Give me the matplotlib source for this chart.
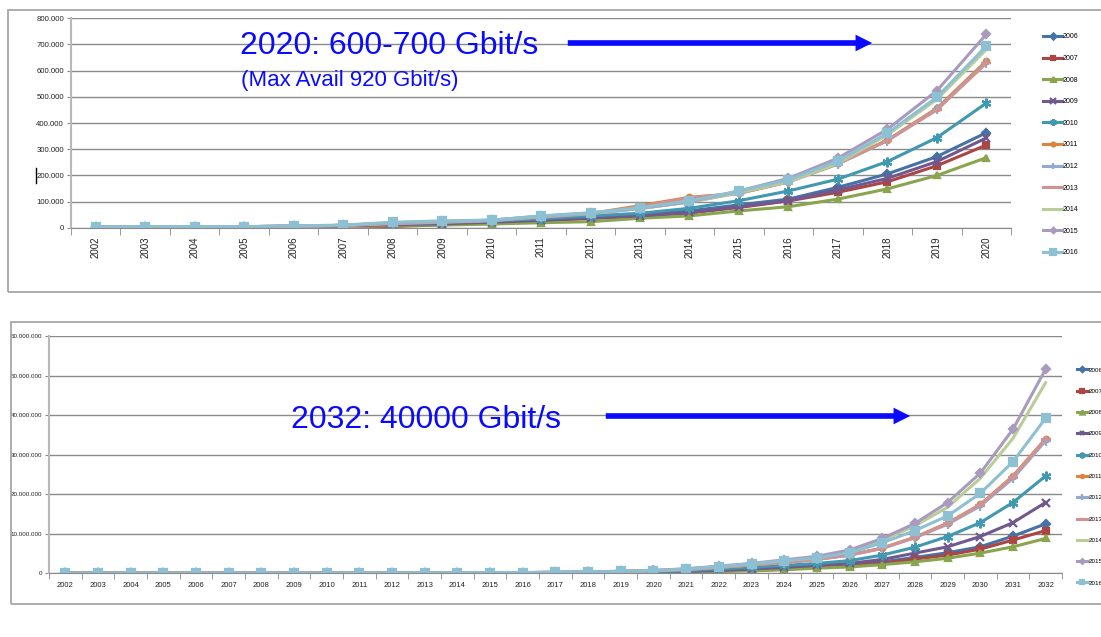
import matplotlib
matplotlib.use('Agg')
import matplotlib.pyplot as plt
from matplotlib import font_manager as fm
from matplotlib.patches import Rectangle, FancyArrowPatch
from matplotlib.lines import Line2D
from matplotlib.ticker import FuncFormatter, MultipleLocator, FixedLocator
import numpy as np

# ========= Datos (valores en miles) ========= #

years_top = [str(y) for y in range(2002, 2021)]
years_ext = [str(y) for y in range(2021, 2033)]
series_names = ['2006', '2007', '2008', '2009', '2010', '2011',
                '2012', '2013', '2014', '2015', '2016']

# proyecciones 2002-2020 (grafico de arriba)
top_2006 = [4, 5, 5, 5, 6, 9, 15, 19, 25, 33, 42, 50, 65, 88, 110, 155, 206, 272, 363]
top_2007 = [4, 5, 5, 5, 6, 8, 6, 12, 20, 28, 36, 46, 57, 78, 103, 136, 176, 237, 316]
top_2008 = [4, 5, 5, 5, 6, 8, 10, 11, 15, 20, 24, 37, 46, 65, 81, 110, 149, 200, 268]
top_2009 = [4, 5, 5, 5, 6, 9, 13, 16, 22, 29, 38, 46, 59, 81, 104, 145, 189, 253, 343]
top_2010 = [4, 5, 5, 5, 7, 10, 16, 21, 27, 36, 46, 56, 75, 104, 141, 186, 253, 344, 476]
top_2011 = [4, 5, 5, 5, 7, 10, 18, 23, 29, 42, 55, 85, 117, 132, 176, 246, 335, 456, 636]
top_2012 = [4, 5, 5, 5, 7, 10, 17, 22, 28, 41, 54, 74, 99, 133, 176, 244, 333, 452, 630]
top_2013 = [4, 5, 5, 5, 7, 10, 18, 23, 29, 43, 55, 80, 115, 132, 175, 244, 333, 450, 628]
top_2014 = [4, 5, 5, 5, 7, 10, 19, 24, 29, 44, 56, 74, 99, 135, 176, 246, 355, 490, 680]
top_2015 = [4, 5, 5, 5, 7, 10, 20, 25, 30, 45, 57, 75, 100, 141, 189, 266, 376, 523, 738]
top_2016 = [4, 5, 5, 5, 8, 11, 22, 27, 30, 46, 58, 77, 103, 141, 183, 255, 361, 498, 693]

# continuacion 2021-2032 (grafico de abajo)
ext_2006 = [480, 640, 900, 1200, 1700, 2100, 2900, 4000, 5200, 6700, 9400, 12500]
ext_2007 = [430, 550, 800, 1000, 1500, 1900, 2500, 3600, 4600, 6100, 8400, 10800]
ext_2008 = [360, 450, 600, 900, 1300, 1600, 2200, 2900, 3800, 5100, 6700, 8800]
ext_2009 = [480, 700, 1100, 1500, 2000, 2500, 3500, 5100, 6700, 9300, 12800, 17900]
ext_2010 = [660, 1100, 1500, 2000, 2500, 3200, 4600, 6600, 9300, 12800, 17900, 24600]
ext_2011 = [960, 1500, 2100, 2750, 3550, 4650, 6400, 9100, 12700, 17400, 24600, 34000]
ext_2012 = [950, 1500, 2100, 2700, 3500, 4600, 6300, 9000, 12400, 17000, 24000, 33500]
ext_2013 = [950, 1500, 2100, 2700, 3500, 4600, 6300, 9100, 12600, 17300, 24400, 33900]
ext_2014 = [1100, 1700, 2400, 3200, 4000, 5500, 8300, 12000, 16700, 24000, 34100, 48200]
ext_2015 = [1150, 1800, 2500, 3400, 4300, 5900, 8800, 12600, 17900, 25300, 36400, 51600]
ext_2016 = [1050, 1700, 2400, 3200, 3900, 5200, 7700, 10800, 14500, 20200, 28200, 39200]

top_series = [top_2006, top_2007, top_2008, top_2009, top_2010, top_2011,
              top_2012, top_2013, top_2014, top_2015, top_2016]
ext_series = [ext_2006, ext_2007, ext_2008, ext_2009, ext_2010, ext_2011,
              ext_2012, ext_2013, ext_2014, ext_2015, ext_2016]

# ========= Estilo ========= #

colores = ['#4572A7', '#AA4643', '#89A54E', '#71588F', '#4198AF', '#DB843D',
           '#93A9CF', '#D19392', '#B9CD96', '#A99BBD', '#8EC0D4']
marcadores = ['D', 's', '^', 'x', (6, 2, 0), 'o', '+', '_', '', 'D', 's']
tamanios = [4.5, 5, 5, 6, 7, 4, 7, 7, 0, 4, 6]
azul = '#0A0AFF'
gris = '#8a8a8a'


def pick_font(names):
    for n in names:
        try:
            fm.findfont(fm.FontProperties(family=n), fallback_to_default=False)
            return n
        except ValueError:
            pass
    return 'DejaVu Sans'


fuente = pick_font(['Liberation Sans', 'Arial', 'DejaVu Sans'])
fuente_narrow = pick_font(['Liberation Sans Narrow', 'Liberation Sans', 'DejaVu Sans'])
plt.rcParams['font.family'] = [fuente, 'DejaVu Sans']


def puntos(v, pos):
    return f'{int(round(v)):,}'.replace(',', '.')


def estilo_ejes(ax, n, ymax, ystep, fs_y, fam_y, tick_len):
    ax.set_xlim(-0.5, n - 0.5)
    ax.set_ylim(0, ymax)
    ax.yaxis.set_major_locator(MultipleLocator(ystep))
    ax.yaxis.set_major_formatter(FuncFormatter(puntos))
    ax.yaxis.grid(True, color=gris, lw=1.0)
    ax.set_axisbelow(True)
    for s in ['top', 'right']:
        ax.spines[s].set_visible(False)
    ax.spines['bottom'].set_color(gris)
    ax.spines['left'].set_color('#b8b8b8')
    ax.spines['left'].set_linewidth(1.5)
    ax.xaxis.set_minor_locator(FixedLocator(np.arange(n + 1) - 0.5))
    ax.tick_params(axis='x', which='major', length=0)
    ax.tick_params(axis='x', which='minor', length=tick_len, color=gris, direction='out')
    ax.tick_params(axis='y', length=3, color=gris, pad=2, labelsize=fs_y, labelcolor='#222222')
    for t in ax.get_yticklabels():
        t.set_family(fam_y)


fig = plt.figure(figsize=(11.01, 6.37), dpi=100)

# ========= Grafico de arriba: hasta 2020 ========= #

ax1 = fig.add_axes([0.0645, 0.6421, 0.8538, 0.3296])
x1 = np.arange(len(years_top))
for nombre, vals, c, m, ms in zip(series_names, top_series, colores, marcadores, tamanios):
    ax1.plot(x1, np.array(vals) * 1000, color=c, lw=2.2, marker=m, markersize=ms,
             markeredgewidth=1.6, label=nombre)
estilo_ejes(ax1, len(years_top), 800000, 100000, 5.6, fuente, 5)
ax1.set_xticks(x1)
ax1.set_xticklabels(years_top, rotation=90, fontsize=7, color='#222222', va='top')
ax1.tick_params(axis='x', which='major', pad=6)
ax1.legend(loc='upper left', bbox_to_anchor=(1040 / 1101, 1 - 30 / 637),
           bbox_transform=fig.transFigure, frameon=False, fontsize=5,
           handlelength=2.6, handletextpad=0.2, labelspacing=2.1, borderpad=0,
           markerscale=0.7)

# ========= Grafico de abajo: hasta 2032 ========= #

ax2 = fig.add_axes([0.0445, 0.1000, 0.9200, 0.3725])
years_bottom = years_top + years_ext
x2 = np.arange(len(years_bottom))
for nombre, vals, ext, c, m, ms in zip(series_names, top_series, ext_series, colores, marcadores, tamanios):
    ax2.plot(x2, np.array(vals + ext) * 1000, color=c, lw=2.2, marker=m, markersize=ms,
             markeredgewidth=1.6, label=nombre)
estilo_ejes(ax2, len(years_bottom), 60000000, 10000000, 4.5, fuente_narrow, 4)
ax2.set_xticks(x2)
ax2.set_xticklabels(years_bottom, fontsize=5.5, color='#222222', family=fuente_narrow)
ax2.tick_params(axis='x', which='major', pad=6)
ax2.legend(loc='upper left', bbox_to_anchor=(1074 / 1101, 1 - 364 / 637),
           bbox_transform=fig.transFigure, frameon=False,
           prop={'family': fuente_narrow, 'size': 4.5},
           handlelength=1.7, handletextpad=0.15, labelspacing=2.55, borderpad=0,
           markerscale=0.6)

# ========= Marcos, textos y flechas ========= #

fig.add_artist(Rectangle((8 / 1101, 1 - 292 / 637), 1.0, 282 / 637, transform=fig.transFigure,
                         fill=False, ec='#a6a6a6', lw=1.3))
fig.add_artist(Rectangle((11 / 1101, 1 - 604 / 637), 1.0, 282 / 637, transform=fig.transFigure,
                         fill=False, ec='#a6a6a6', lw=1.3))
fig.add_artist(Line2D([36 / 1101, 36 / 1101], [1 - 168 / 637, 1 - 183 / 637],
                      transform=fig.transFigure, color='black', lw=1))

fig.text(240 / 1101, 1 - 54 / 637, '2020: 600-700 Gbit/s', fontsize=23, color=azul, va='baseline')
fig.text(241 / 1101, 1 - 86 / 637, '(Max Avail 920 Gbit/s)', fontsize=16, color=azul, va='baseline')
fig.text(291 / 1101, 1 - 428 / 637, '2032: 40000 Gbit/s', fontsize=23, color=azul, va='baseline')

estilo_flecha = 'simple,head_width=0.8,head_length=0.8,tail_width=0.27'
fig.add_artist(FancyArrowPatch((565 / 1101, 1 - 43 / 637), (875 / 1101, 1 - 43 / 637),
                               transform=fig.transFigure, arrowstyle=estilo_flecha,
                               mutation_scale=15, color=azul, lw=0))
fig.add_artist(FancyArrowPatch((603 / 1101, 1 - 416 / 637), (913 / 1101, 1 - 416 / 637),
                               transform=fig.transFigure, arrowstyle=estilo_flecha,
                               mutation_scale=15, color=azul, lw=0))

fig.savefig('out.png', dpi=100)
